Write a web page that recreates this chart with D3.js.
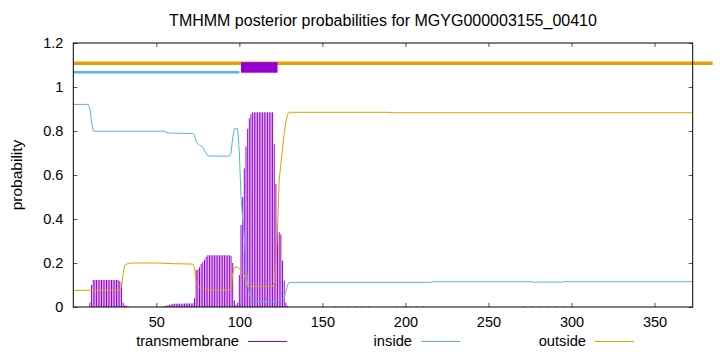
<!DOCTYPE html>
<html>
<head>
<meta charset="utf-8">
<script src="https://cdn.jsdelivr.net/npm/d3@7"></script>
<style>
  html, body { margin: 0; padding: 0; background: #fff; }
  svg { display: block; }
  text { font-family: "Liberation Sans", Arial, sans-serif; fill: #000; }
</style>
</head>
<body>
<svg id="chart" width="720" height="352"></svg>
<script>
// ---- data ----
const title = "TMHMM posterior probabilities for MGYG000003155_00410";
const xTicks = [50, 100, 150, 200, 250, 300, 350];
const yTicks = [0, 0.2, 0.4, 0.6, 0.8, 1, 1.2];
const yTickLabels = ["0", "0.2", "0.4", "0.6", "0.8", "1", "1.2"];
const seriesNames = ["transmembrane", "inside", "outside"];

// transmembrane posterior per residue, starting at residue 10
const tmStart = 10;
const tmValues = [
  0.02, 0.10, 0.123, 0.123, 0.123, 0.123, 0.123, 0.123, 0.123, 0.123,   // 10-19
  0.123, 0.123, 0.123, 0.123, 0.123, 0.123, 0.123, 0.123, 0.118, 0.108, // 20-29
  0.02, 0.008, 0.005, 0.003, 0, 0, 0, 0, 0, 0,                          // 30-39
  0, 0, 0, 0, 0, 0, 0, 0, 0, 0,                                         // 40-49
  0, 0, 0, 0, 0.002, 0.004, 0.006, 0.008, 0.010, 0.012,                 // 50-59
  0.014, 0.015, 0.015, 0.015, 0.015, 0.015, 0.016, 0.016, 0.016, 0.016, // 60-69
  0.016, 0.016, 0.017, 0.04, 0.168, 0.170, 0.180, 0.195, 0.205, 0.215,  // 70-79
  0.228, 0.235, 0.235, 0.235, 0.235, 0.235, 0.235, 0.235, 0.235, 0.235, // 80-89
  0.235, 0.235, 0.235, 0.235, 0.235, 0.232, 0.20, 0.03, 0.01, 0.02,     // 90-99
  0.145, 0.373, 0.50, 0.63, 0.73, 0.81, 0.858, 0.877, 0.885, 0.885,     // 100-109
  0.885, 0.885, 0.885, 0.885, 0.885, 0.885, 0.885, 0.885, 0.885, 0.885, // 110-119
  0.885, 0.74, 0.56, 0.37, 0.34, 0.33, 0.21, 0.12, 0.02, 0.005          // 120-129
];
// faint transmembrane traces further along the sequence
const tmTraceResidues = [158, 162, 166, 170, 174, 178, 195, 199, 203, 207, 211, 271, 276, 281, 286, 291, 296];
const tmTraceValues   = [0.003, 0.003, 0.003, 0.003, 0.003, 0.003, 0.003, 0.003, 0.003, 0.003, 0.003, 0.003, 0.003, 0.003, 0.003, 0.003, 0.003];

// inside posterior: residue positions and values
const insidePos = [0, 9, 10, 11, 12, 13, 54, 58, 72, 73, 74, 76, 78, 79, 81, 82, 94, 95, 96, 97, 99,
  100, 101, 102, 103, 104, 105, 106, 107, 109, 120, 122, 125, 127, 128, 129, 130, 215, 217, 275, 277, 294, 296, 373];
const insideVal = [0.921, 0.921, 0.90, 0.84, 0.80, 0.799, 0.799, 0.79, 0.789, 0.78, 0.75, 0.735, 0.726, 0.71, 0.688, 0.686, 0.686, 0.70, 0.77, 0.81, 0.81,
  0.70, 0.50, 0.40, 0.32, 0.20, 0.10, 0.06, 0.04, 0.026, 0.024, 0.028, 0.035, 0.045, 0.07, 0.10, 0.112, 0.112, 0.115, 0.115, 0.113, 0.113, 0.115, 0.115];

// outside posterior
const outsidePos = [0, 28, 29, 30, 31, 33, 35, 50, 60, 72, 73, 74, 76, 78, 81, 94, 95, 96, 97, 99,
  100, 101, 102, 103, 104, 105, 106, 120, 121, 122, 123, 124, 125, 126, 127, 128, 129, 130, 190, 192, 373];
const outsideVal = [0.076, 0.076, 0.09, 0.15, 0.19, 0.198, 0.20, 0.20, 0.197, 0.195, 0.18, 0.108, 0.092, 0.085, 0.077, 0.077, 0.09, 0.15, 0.18, 0.182,
  0.172, 0.165, 0.158, 0.145, 0.12, 0.10, 0.094, 0.094, 0.11, 0.20, 0.365, 0.577, 0.65, 0.72, 0.79, 0.84, 0.875, 0.885, 0.885, 0.883, 0.883];

// predicted topology segments shown above the curves
const insideSeg = [0, 100];
const tmSeg = [101, 123];
const outsideSeg = [0, 385];
const segLevels = { inside: 1.067, outside: 1.108, tmLow: 1.065, tmHigh: 1.113 };

// ---- colours ----
const cTM = "#9400d3", cIn = "#56b4e9", cOut = "#e69f00";

// ---- layout ----
const svg = d3.select("#chart");
const x = d3.scaleLinear().domain([0, 373]).range([73.3, 692.7]);
const y = d3.scaleLinear().domain([0, 1.2]).range([307, 43]);

// transmembrane impulses
const tmData = tmValues.map((v, i) => ({ r: tmStart + i, v }))
  .concat(tmTraceResidues.map((r, i) => ({ r, v: tmTraceValues[i] })))
  .filter(d => d.v > 0);
svg.append("g").selectAll("line").data(tmData).join("line")
  .attr("x1", d => x(d.r)).attr("x2", d => x(d.r))
  .attr("y1", y(0)).attr("y2", d => y(d.v))
  .attr("stroke", cTM).attr("stroke-width", 1);

// curves
const line = d3.line().x(d => x(d[0])).y(d => y(d[1]));
svg.append("path").datum(insidePos.map((p, i) => [p, insideVal[i]]))
  .attr("d", line).attr("fill", "none").attr("stroke", cIn).attr("stroke-width", 1);
svg.append("path").datum(outsidePos.map((p, i) => [p, outsideVal[i]]))
  .attr("d", line).attr("fill", "none").attr("stroke", cOut).attr("stroke-width", 1);

// topology bars
svg.append("line").attr("x1", x(insideSeg[0])).attr("x2", x(insideSeg[1]))
  .attr("y1", y(segLevels.inside)).attr("y2", y(segLevels.inside))
  .attr("stroke", cIn).attr("stroke-width", 2.5);
svg.append("line").attr("x1", x(outsideSeg[0])).attr("x2", x(outsideSeg[1]))
  .attr("y1", y(segLevels.outside)).attr("y2", y(segLevels.outside))
  .attr("stroke", cOut).attr("stroke-width", 3.5);
svg.append("rect").attr("x", x(tmSeg[0])).attr("width", x(tmSeg[1]) - x(tmSeg[0]))
  .attr("y", y(segLevels.tmHigh)).attr("height", y(segLevels.tmLow) - y(segLevels.tmHigh))
  .attr("fill", cTM);

// axes
const fsTick = 14.5, fsLegend = 14.7, fsTitle = 16, fsLabel = 15.5;
const gx = svg.append("g").attr("transform", `translate(0,${y(0)})`)
  .call(d3.axisBottom(x).tickValues(xTicks).tickSize(-4).tickPadding(10).tickFormat(d3.format("d")));
const gxTop = svg.append("g").attr("transform", `translate(0,${y(1.2)})`)
  .call(d3.axisTop(x).tickValues(xTicks).tickSize(-4).tickFormat(""));
const gy = svg.append("g").attr("transform", `translate(${x(0)},0)`)
  .call(d3.axisLeft(y).tickValues(yTicks).tickSize(-4).tickPadding(10).tickFormat((d, i) => yTickLabels[i]));
const gyR = svg.append("g").attr("transform", `translate(${x(373)},0)`)
  .call(d3.axisRight(y).tickValues(yTicks).tickSize(-4).tickFormat(""));
[gx, gxTop, gy, gyR].forEach(g => {
  g.select(".domain").remove();
  g.selectAll(".tick line").attr("stroke", "#555");
  g.selectAll("text").attr("font-size", fsTick).attr("font-family", "Liberation Sans, Arial, sans-serif").attr("fill", "#000");
});
// border
svg.append("rect").attr("x", x(0)).attr("y", y(1.2))
  .attr("width", x(373) - x(0)).attr("height", y(0) - y(1.2))
  .attr("fill", "none").attr("stroke", "#000").attr("stroke-width", 1);

// title and axis label
svg.append("text").attr("x", (x(0) + x(373)) / 2).attr("y", 26)
  .attr("text-anchor", "middle").attr("font-size", fsTitle).text(title);
svg.append("text").attr("transform", `translate(22,${(y(0) + y(1.2)) / 2}) rotate(-90)`)
  .attr("text-anchor", "middle").attr("font-size", fsLabel).text("probability");

// legend
const legendTextRight = [239, 412, 586];
const legendColors = [cTM, cIn, cOut];
const lg = svg.append("g");
seriesNames.forEach((name, i) => {
  lg.append("text").attr("x", legendTextRight[i]).attr("y", 346)
    .attr("text-anchor", "end").attr("font-size", fsLegend).text(name);
  lg.append("line").attr("x1", legendTextRight[i] + 9).attr("x2", legendTextRight[i] + 48)
    .attr("y1", 341.5).attr("y2", 341.5).attr("stroke", legendColors[i]).attr("stroke-width", 1);
});
</script>
</body>
</html>
